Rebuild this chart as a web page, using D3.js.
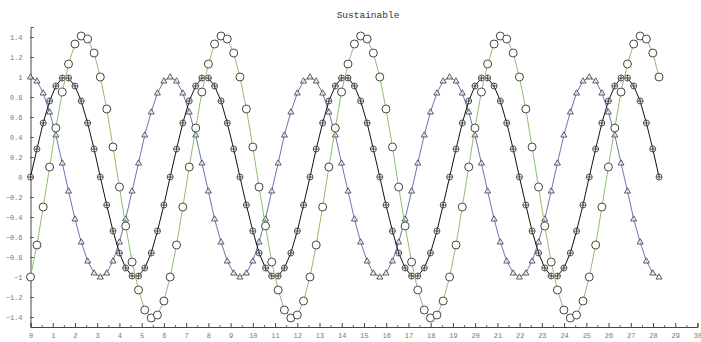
<!DOCTYPE html>
<html><head><meta charset="utf-8">
<script src="https://cdn.jsdelivr.net/npm/d3@7"></script>
<style>body{margin:0;background:#fff}svg{display:block}</style>
</head><body>
<script>
const title = "Sustainable";
const t = [0,0.29,0.57,0.86,1.14,1.43,1.71,2.00,2.28,2.57,2.86,3.14,3.43,3.71,4.00,4.28,4.57,4.86,5.14,5.43,5.71,6.00,
6.28,6.57,6.85,7.14,7.43,7.71,8.00,8.28,8.57,8.85,9.14,9.42,9.71,10.00,10.28,10.57,10.85,11.14,11.42,11.71,12.00,12.28,
12.57,12.85,13.14,13.42,13.71,13.99,14.28,14.57,14.85,15.14,15.42,15.71,15.99,16.28,16.56,16.85,17.14,17.42,17.71,17.99,
18.28,18.56,18.85,19.14,19.42,19.71,19.99,20.28,20.56,20.85,21.13,21.42,21.71,21.99,22.28,22.56,22.85,23.13,23.42,23.70,
23.99,24.28,24.56,24.85,25.13,25.42,25.70,25.99,26.28,26.56,26.85,27.13,27.42,27.70,27.99,28.27];
const cosVals = [1,.96,.84,.65,.42,.14,-.14,-.42,-.65,-.84,-.96,-1,-.96,-.84,-.65,-.42,-.14,.14,.42,.65,.84,.96,
1,.96,.84,.65,.42,.14,-.14,-.42,-.65,-.84,-.96,-1,-.96,-.84,-.65,-.42,-.14,.14,.42,.65,.84,.96,
1,.96,.84,.65,.42,.14,-.14,-.42,-.65,-.84,-.96,-1,-.96,-.84,-.65,-.42,-.14,.14,.42,.65,.84,.96,
1,.96,.84,.65,.42,.14,-.14,-.42,-.65,-.84,-.96,-1,-.96,-.84,-.65,-.42,-.14,.14,.42,.65,.84,.96,
1,.96,.84,.65,.42,.14,-.14,-.42,-.65,-.84,-.96,-1];
const sinVals = [0,.28,.54,.76,.91,.99,.99,.91,.76,.54,.28,0,-.28,-.54,-.76,-.91,-.99,-.99,-.91,-.76,-.54,-.28,
0,.28,.54,.76,.91,.99,.99,.91,.76,.54,.28,0,-.28,-.54,-.76,-.91,-.99,-.99,-.91,-.76,-.54,-.28,
0,.28,.54,.76,.91,.99,.99,.91,.76,.54,.28,0,-.28,-.54,-.76,-.91,-.99,-.99,-.91,-.76,-.54,-.28,
0,.28,.54,.76,.91,.99,.99,.91,.76,.54,.28,0,-.28,-.54,-.76,-.91,-.99,-.99,-.91,-.76,-.54,-.28,
0,.28,.54,.76,.91,.99,.99,.91,.76,.54,.28,0];
const diffVals = [-1,-.68,-.30,.10,.49,.85,1.13,1.33,1.41,1.38,1.24,1,.68,.30,-.10,-.49,-.85,-1.13,-1.33,-1.41,-1.38,-1.24,
-1,-.68,-.30,.10,.49,.85,1.13,1.33,1.41,1.38,1.24,1,.68,.30,-.10,-.49,-.85,-1.13,-1.33,-1.41,-1.38,-1.24,
-1,-.68,-.30,.10,.49,.85,1.13,1.33,1.41,1.38,1.24,1,.68,.30,-.10,-.49,-.85,-1.13,-1.33,-1.41,-1.38,-1.24,
-1,-.68,-.30,.10,.49,.85,1.13,1.33,1.41,1.38,1.24,1,.68,.30,-.10,-.49,-.85,-1.13,-1.33,-1.41,-1.38,-1.24,
-1,-.68,-.30,.10,.49,.85,1.13,1.33,1.41,1.38,1.24,1];
const xTicks = d3.range(0, 31, 1);
const yTicks = [1.4,1.2,1,0.8,0.6,0.4,0.2,0,-0.2,-0.4,-0.6,-0.8,-1,-1.2,-1.4];

const W = 701, H = 342;
const svg = d3.select("body").append("svg").attr("width", W).attr("height", H);
const x = d3.scaleLinear().domain([0, 30]).range([30.5, 697.5]);
const y = d3.scaleLinear().domain([-1.5, 1.5]).range([327, 27]);

svg.append("text").attr("x", 368).attr("y", 18).attr("text-anchor", "middle")
  .attr("font-family", "Liberation Mono, DejaVu Sans Mono, monospace").attr("font-size", 9.5)
  .attr("fill", "#333").text(title);

// x axis
const xa = svg.append("g").attr("transform", `translate(0,327)`)
  .call(d3.axisBottom(x).tickValues(xTicks).tickSize(-4).tickPadding(6).tickFormat(d3.format("d")));
xa.select(".domain").attr("stroke", "#444");
xa.selectAll(".tick line").attr("stroke", "#444");
xa.selectAll(".tick text").attr("font-family", "Liberation Mono, monospace").attr("font-size", 7).attr("fill", "#777");
const xm = svg.append("g").attr("transform", `translate(0,327)`)
  .call(d3.axisBottom(x).tickValues(d3.range(0.5, 30, 1)).tickSize(-2).tickFormat(""));
xm.select(".domain").remove();
xm.selectAll(".tick line").attr("stroke", "#666");

// y axis
const ya = svg.append("g").attr("transform", `translate(30.5,0)`)
  .call(d3.axisLeft(y).tickValues(yTicks).tickSize(-3).tickPadding(8).tickFormat(d => d3.format("")(+d.toFixed(1))));
ya.select(".domain").attr("stroke", "#444");
ya.selectAll(".tick line").attr("stroke", "#444");
ya.selectAll(".tick text").attr("font-family", "Liberation Mono, monospace").attr("font-size", 7).attr("fill", "#777");

const line = vals => d3.line().x((d, i) => x(t[i])).y(d => y(d))(vals);

// cos - triangles
svg.append("path").attr("d", line(cosVals)).attr("fill", "none").attr("stroke", "#6876b8").attr("stroke-width", 1);
svg.append("g").selectAll("path").data(cosVals).join("path")
  .attr("transform", (d, i) => `translate(${x(t[i])},${y(d)})`)
  .attr("d", "M0,-3.2L3,2L-3,2Z").attr("fill", "#fff").attr("fill-opacity", 0.6)
  .attr("stroke", "#333").attr("stroke-width", 0.8);

// sin - circle plus
svg.append("path").attr("d", line(sinVals)).attr("fill", "none").attr("stroke", "#111").attr("stroke-width", 1);
const sg = svg.append("g").selectAll("g").data(sinVals).join("g")
  .attr("transform", (d, i) => `translate(${x(t[i])},${y(d)})`);
sg.append("circle").attr("r", 3).attr("fill", "#fff").attr("fill-opacity", 0.5).attr("stroke", "#333").attr("stroke-width", 0.8);
sg.append("path").attr("d", "M-3,0H3M0,-3V3").attr("stroke", "#333").attr("stroke-width", 0.8);

// sin - cos - open circles
svg.append("path").attr("d", line(diffVals)).attr("fill", "none").attr("stroke", "#8cc070").attr("stroke-width", 1);
svg.append("g").selectAll("circle").data(diffVals).join("circle")
  .attr("cx", (d, i) => x(t[i])).attr("cy", d => y(d)).attr("r", 4)
  .attr("fill", "#fff").attr("stroke", "#333").attr("stroke-width", 0.9);
</script>
</body></html>
